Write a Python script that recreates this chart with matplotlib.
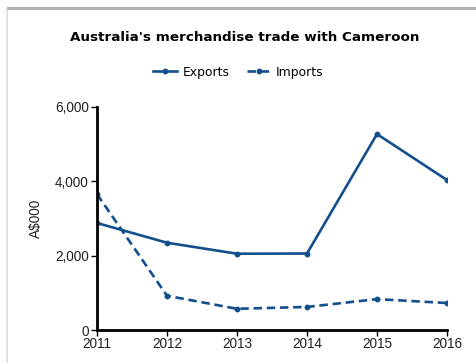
import matplotlib.pyplot as plt
from matplotlib.lines import Line2D

years = [2011, 2012, 2013, 2014, 2015, 2016]
exports = [2875, 2345, 2050, 2055, 5265, 4030]
imports = [3650, 920, 570, 620, 830, 725]

blue = '#124f8c'

fig = plt.figure(figsize=(4.77, 3.63), dpi=100)
ax = fig.add_axes([0.2034, 0.0909, 0.7337, 0.6151])

ax.plot(years, exports, color=blue, lw=1.9, marker='o', ms=3.2, label='Exports')
ax.plot(years, imports, color=blue, lw=1.9, marker='o', ms=3.2,
        dashes=(3.2, 1.8), label='Imports')

ax.set_xlim(2011, 2016)
ax.set_ylim(0, 6000)
ax.set_xticks(years)
ax.set_yticks([0, 2000, 4000, 6000])
ax.set_yticklabels(['0', '2,000', '4,000', '6,000'])
for lab in ax.get_xticklabels() + ax.get_yticklabels():
    lab.set_fontfamily('Liberation Sans')
    lab.set_fontsize(9.8)
    lab.set_color('#222222')
ax.tick_params(axis='y', length=4, width=1, pad=2)
ax.tick_params(axis='x', length=4, width=1, pad=1)

for side in ['top', 'right']:
    ax.spines[side].set_visible(False)
for side in ['left', 'bottom']:
    ax.spines[side].set_linewidth(2)
    ax.spines[side].set_color('black')

ax.set_ylabel('A$000', fontfamily='Liberation Sans', fontsize=9.8,
              color='#222222')
ax.yaxis.set_label_coords(-0.154, 0.5)

fig.text(0.512, 0.897, "Australia's merchandise trade with Cameroon",
         ha='center', va='center', fontsize=9.7, fontweight='bold',
         fontfamily='DejaVu Sans')

leg = ax.legend(loc='center', bbox_to_anchor=(0.50, 0.801),
                bbox_transform=fig.transFigure, ncol=2, frameon=False,
                prop={'family': 'DejaVu Sans', 'size': 8.9},
                handlelength=1.9, columnspacing=1.4, handletextpad=0.45)

# panel border
fig.add_artist(Line2D([0.017, 1.0], [0.977, 0.977], color='#b0b0b0', lw=2.2,
                      transform=fig.transFigure))
fig.add_artist(Line2D([0.015, 0.015], [0.0, 0.972], color='#dddddd', lw=1.2,
                      transform=fig.transFigure))

fig.savefig('out.png', dpi=100)
